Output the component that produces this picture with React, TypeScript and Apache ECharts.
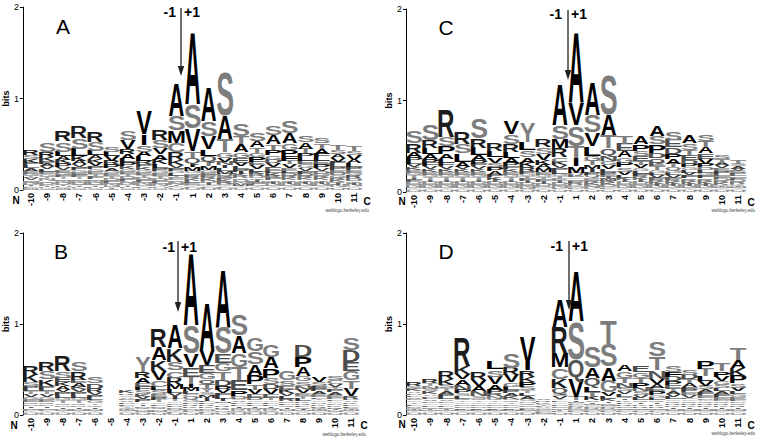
import React, { useEffect, useRef } from 'react';
import * as echarts from 'echarts';

// ---------------- DATA ----------------
const positions = ['-10', '-9', '-8', '-7', '-6', '-5', '-4', '-3', '-2', '-1', '1', '2', '3', '4', '5', '6', '7', '8', '9', '10', '11'];
const yTicks = [0, 1, 2];
const panelNames = ['A', 'B', 'C', 'D'];

// Each string: stack bottom -> top, letter + height in hundredths of a bit
const logoA = [
  'M1 W1 F1 Y1 I1 D2 N2 Q2 V2 T2 G3 E3 A3 L3 P3 K4 S4 R5',
  'W1 C1 H1 I1 F1 Y1 D2 Q2 N2 T2 G3 E3 L3 V3 A3 P3 K4 R6 S10',
  'M1 W1 C1 H1 I1 Y1 D2 N2 Q2 T2 F2 G3 E3 V3 P4 K4 A4 L5 S11 R12',
  'W1 C1 H1 I1 Y1 M1 D2 N2 Q2 T2 F2 E3 G3 P3 V3 A4 K5 L8 S12 R13',
  'W1 C1 H1 I1 Y1 M1 D2 N2 Q2 F2 T3 E3 G3 P3 V4 K4 A4 L5 S10 R11',
  'W1 I1 Y1 M1 N2 Q2 F2 D2 T3 E3 G3 A3 P4 R4 V5 L5 S6',
  'W1 C1 H1 I1 Y1 M1 N2 Q2 F2 D2 T3 E3 G3 K3 P4 L4 A5 R6 V10 S10',
  'W1 C1 H1 Y1 M1 N2 Q2 F2 D2 T3 E3 G3 K3 P3 R4 L5 A5 S7 I12 V26',
  'W1 C1 H1 Y1 N2 Q2 F2 D2 T3 E3 G3 P3 L4 K5 A6 V7 S9 R11',
  'W1 H1 Y1 F1 I1 N2 D2 Q2 E2 T2 L3 G3 P3 V3 K6 R9 C10 M13 S16 A36',
  'W1 H1 F1 Y1 N1 D1 E2 L2 K2 R2 P2 C2 G3 M4 I4 Q6 T7 V25 S27 A80',
  'W1 H1 F1 Y1 N1 C1 I2 D2 K2 R2 P2 E3 G3 M4 T5 Q6 L7 V15 S16 A38',
  'W1 H1 F1 Y1 C1 D2 R2 K2 P2 E2 Q3 M3 L3 I3 N4 V4 G6 T14 A26 S50',
  'W1 H1 C1 Y1 F1 M2 N2 D2 Q2 R2 K2 I3 P3 L3 V4 E5 G6 A9 T9 S13',
  'W1 H1 C1 Y1 M1 F2 N2 I2 Q2 D2 R2 K3 L3 V4 E4 P5 G5 T6 A7 S9',
  'W1 H1 C1 Y1 M1 N2 I2 Q2 F2 R2 K3 L3 E4 V4 D4 G5 P6 T6 A10 S11',
  'W1 H1 C1 Y1 M1 N2 I2 Q2 K2 R2 D3 L3 E3 V4 T4 F5 P7 G7 A11 S13',
  'W1 H1 C1 Y1 M1 N2 I2 Q2 K2 R2 D3 F3 V3 G4 E4 L4 P4 T5 A7 S8',
  'W1 H1 C1 Y1 M1 N2 I2 Q2 K2 R2 G3 D3 V3 P4 E4 L4 F4 A5 T6 S6',
  'W1 H1 Y1 N2 I2 Q2 K2 R2 G3 D3 E3 P3 L3 F3 V4 A4 S5 T6',
  'W1 H1 Y1 C1 N2 I2 Q2 D3 R3 G3 E3 P3 L4 A4 V5 S5 T6',
];

const logoB = [
  'W1 H1 C1 Y1 F1 M1 N2 I2 D2 Q2 E3 G3 V3 T3 L3 P3 S4 K8 R10',
  'W1 H1 C1 Y1 F1 M1 N2 I2 D2 Q2 E3 G3 V3 T3 L3 P3 K7 S9 R10',
  'W1 H1 C1 Y1 M1 N2 I2 D2 Q2 T3 G3 L3 P3 V3 A4 K4 E5 S7 R18',
  'W1 H1 C1 Y1 M1 N2 I2 D2 Q2 T3 G3 L3 P3 V3 K3 A4 E4 R9 S10',
  'W1 H1 C1 Y1 M1 N2 I2 Q2 T2 G3 L3 P3 V3 R4 D6 S7',
  '',
  'W1 H1 C1 Y1 M1 N1 I1 Q1 T1 G1 L2 P2 V2 E2 A2 S2 R2 K3',
  'W1 H1 C1 M1 N2 Q2 D2 I2 T2 P3 V3 K3 S4 F4 E4 A5 R7 Y17',
  'W1 H1 Y1 M1 N2 Q2 D2 F2 G2 T3 P3 E3 S4 L4 C7 V10 K12 A15 R20',
  'W1 H1 F1 Y1 Q1 N2 D2 P2 E2 G2 T3 I3 V3 L4 M5 R8 C8 S9 K15 A26',
  'W1 H1 Y1 F1 N2 D2 K2 R2 P2 G3 Q3 C3 L3 M4 I4 T8 E10 V15 S32 A80',
  'W1 H1 F1 C1 N2 D2 K2 R2 P2 L2 I3 M3 S3 Y4 T5 Q5 G7 E9 V17 A52',
  'W1 H1 C1 N2 Q2 K2 R2 Y2 M2 I3 L3 F3 V4 P4 D7 T9 G9 E10 S30 A64',
  'W1 H1 N1 Q1 K1 R1 Y1 M1 I2 L2 F2 V2 C2 D3 P6 E12 T14 G15 A19 S24',
  'W1 H1 N1 Q1 K1 R1 Y1 M1 I2 L2 F2 C2 D3 E4 V5 T6 P10 A12 S14 G15',
  'W1 H1 N1 Q1 K1 R1 Y1 M1 I2 L2 F2 C2 T3 E4 V5 D6 S7 P10 A13 G14',
  'W1 H1 C1 Y1 M1 N2 I2 Q2 F2 D2 R3 L3 V3 K4 E4 S6 G10',
  'W1 H1 C1 Y1 M1 I2 Q2 F2 R2 K2 L3 T3 E3 V4 N4 S5 G6 A10 P11 D13',
  'W1 H1 C1 Y1 M1 N1 I1 Q1 R2 K2 D2 G2 T2 L2 E3 A3 P3 F3 S4 V5',
  'W1 H1 Y1 M1 N1 I1 Q1 R2 K2 D2 G2 L2 F2 E3 A3 P3 T3 V3 C4 S5',
  'W1 H1 C1 Y1 M1 N1 I1 Q1 F2 L2 K2 A2 P2 R3 V8 T9 G10 E10 D13 S14',
];

const logoC = [
  'W1 H1 C1 Y1 M1 N2 Q2 D2 F2 I2 T3 G3 E3 K3 V3 L4 P4 A5 R10 S13',
  'W1 H1 C1 Y1 M1 N2 Q2 D2 I2 T3 G3 E3 K3 V3 F4 P4 A5 L7 R9 S18',
  'W1 H1 C1 Y1 M1 N2 Q2 D2 I2 T3 G3 E3 K3 V3 F4 L4 A5 P9 S10 R30',
  'W1 H1 C1 Y1 M1 N2 Q2 D2 I2 T3 G3 E3 K3 V3 A5 L9 S11 R13',
  'W1 H1 C1 Y1 M1 N2 Q2 D2 I2 T3 G3 E3 K3 V3 F3 P4 A5 L8 R10 S22',
  'W1 H1 C1 Y1 M1 N2 Q2 D2 I2 K3 F3 A4 P4 S5 V6 L7 R9',
  'W1 H1 C1 Y1 M1 N2 Q2 D2 I2 T3 G3 E3 K3 F3 P4 A5 L7 R9 S10 V15',
  'W1 H1 C1 M1 N2 Q2 D2 I2 F2 T3 G3 P3 R4 K5 A6 S8 L9 Y22',
  'W1 H1 C1 Y1 N1 Q2 D2 I2 F2 T3 G3 E3 M4 A4 K5 V7 S7 R9',
  'W1 H1 Y1 F1 N2 Q2 D2 I2 E2 T3 G3 L3 P3 V3 K4 C5 R10 M10 S15 A45',
  'W1 H1 Y1 F1 N1 D1 E1 K1 R2 P2 C2 G2 L2 Q3 M7 I9 T13 S23 V24 A78',
  'W1 H1 Y1 F1 N2 D2 K2 R2 E2 C2 Q3 P3 I3 M4 T5 G6 L10 V15 S19 A36',
  'W1 H1 Y1 F1 C2 D2 K2 R2 M2 I2 E3 P3 L3 V4 G5 N6 Q8 T14 A23 S45',
  'W1 H1 C1 Y1 M1 N2 Q2 D2 I2 K2 L3 V4 S5 P5 G6 A7 E8 T8',
  'W1 H1 C1 Y1 M1 N2 Q2 D2 I2 K2 R2 F3 L3 G3 V4 T4 E5 S6 P7 A9',
  'W1 H1 C1 Y1 M1 N2 I2 K2 R2 F2 V3 L3 G3 T4 E4 Q5 D6 P9 S9 A11',
  'W1 H1 C1 Y1 M1 N2 I2 K2 R2 F2 V3 L3 G3 Q3 T4 A5 P6 D7 E8 S9',
  'W1 H1 C1 Y1 M1 N2 I2 K2 R2 Q2 F3 V3 L3 G3 P4 D4 E5 T6 S7 A8',
  'W1 H1 C1 Y1 M1 N2 I2 K2 R2 Q2 F3 G3 L3 D3 P4 V5 E6 A7 T7 S8',
  'W1 H1 C1 Y1 M1 N1 I1 Q1 K2 R2 D2 F2 G2 L2 P3 E3 V3 A3 T4 S5',
  'W1 H1 C1 Y1 M1 N1 I1 Q1 K1 R2 D2 F2 G2 L2 P2 E2 V2 A3 S3 T4',
];

const logoD = [
  'W1 H1 C1 Y1 M1 N1 I1 Q1 D2 F2 T2 G2 E2 V2 L2 P2 A2 K3 S3 R4',
  'W1 H1 C1 Y1 M1 I1 Q1 D2 F2 G2 E2 V2 L2 P2 A2 K3 S3 N3 T3 R4',
  'W1 H1 C1 Y1 M1 I1 Q1 D2 F2 G2 E2 V2 L3 P3 A3 T3 S4 K7 R8',
  'W1 H1 C1 Y1 M1 I1 F2 D2 E2 G2 T2 Q2 L3 S3 P4 N5 A6 V6 K9 R32',
  'W1 H1 C1 Y1 M1 I1 F2 D2 E2 G2 T2 Q2 S3 N5 A6 V7 R8',
  'W1 H1 C1 Y1 M1 I1 F2 D2 E2 G2 T2 Q2 N3 R3 P4 A6 V8 S8 L9',
  'W1 H1 C1 Y1 M1 I1 F2 D2 E2 T2 Q2 N2 K3 A3 P3 L4 G5 V8 R8 S17',
  'W1 H1 C1 Y1 M1 F2 D2 E2 Q2 N2 G3 A3 L3 T3 S4 P5 K6 R7 I8 V29',
  'C1 M1 F1 D1 E1 Q1 N1 G1 A1 L1 T1 S1 K2 R2 V2',
  'W1 H1 Y1 F1 I1 N1 D2 E2 P2 G2 L2 T2 V3 S3 Q6 K10 C12 M16 R29 A31',
  'W1 H1 Y1 F1 N1 D1 E1 K1 R1 P1 G1 L1 C1 M1 I2 T4 V20 Q21 S42 A55',
  'W1 H1 Y1 F1 N1 D1 E1 R1 P1 G1 C1 M1 I2 V2 K4 T5 L6 Q10 A12 S24',
  'W1 H1 Y1 F1 N1 D1 E1 R1 P1 C1 M1 Q2 I2 K3 L3 V4 G13 A15 S25 T26',
  'W1 H1 Y1 F1 C1 M1 D2 E2 R2 P2 K2 I2 Q2 L3 V3 S4 N5 T6 G7 A7',
  'W1 H1 Y1 F1 C1 M1 D2 R2 K2 I2 Q2 L3 V3 S4 N4 P5 T6 G6 E7',
  'W1 H1 Y1 F1 C1 M1 D2 R2 K2 I2 Q2 L3 G3 P4 E4 A4 V6 N9 T15 S16',
  'W1 H1 Y1 C1 M1 N2 I2 K2 R2 Q2 G2 L3 V3 A3 T3 E4 P4 D5 F5 S7',
  'W1 H1 Y1 C1 M1 N2 I2 K2 R2 Q2 G2 L2 V3 E3 P3 F3 A4 T4 D5 S6',
  'W1 H1 Y1 C1 M1 N2 I2 K2 R2 Q2 G2 D2 E3 F3 A3 S4 V5 L6 T8 P9',
  'W1 H1 Y1 C1 M1 N2 I2 K2 R2 Q2 D2 E3 F3 A3 L3 S4 G4 V5 P6 T8',
  'W1 H1 Y1 C1 M1 N2 I2 R2 Q2 D2 F2 E3 G3 L3 V4 S5 P8 K9 A9 T13',
];

// ---------------- GLYPH METRICS (em) ----------------
// inkLeft, inkRight, advance, inkBottom, inkTop
const METRICS: Record<string, number[]> = {
  A: [0.0, 0.719, 0.722, 0, 0.716],
  C: [0.048, 0.669, 0.722, -0.012, 0.728],
  D: [0.073, 0.669, 0.722, 0, 0.716],
  E: [0.073, 0.612, 0.667, 0, 0.716],
  F: [0.073, 0.561, 0.611, 0, 0.716],
  G: [0.044, 0.72, 0.778, -0.012, 0.728],
  H: [0.073, 0.649, 0.722, 0, 0.716],
  I: [0.067, 0.211, 0.278, 0, 0.716],
  K: [0.073, 0.727, 0.722, 0, 0.716],
  L: [0.073, 0.575, 0.611, 0, 0.716],
  M: [0.071, 0.762, 0.833, 0, 0.716],
  N: [0.073, 0.649, 0.722, 0, 0.716],
  P: [0.073, 0.62, 0.667, 0, 0.716],
  Q: [0.043, 0.756, 0.778, -0.06, 0.728],
  R: [0.073, 0.722, 0.722, 0, 0.716],
  S: [0.034, 0.62, 0.667, -0.012, 0.728],
  T: [0.02, 0.591, 0.611, 0, 0.716],
  V: [0.0, 0.667, 0.667, 0, 0.716],
  W: [0.004, 0.938, 0.944, 0, 0.716],
  Y: [0.0, 0.667, 0.667, 0, 0.716],
};
const CENTRAL = 0.3467;
const FONT = 'Liberation Sans';

function letterGray(L: string) {
  if ('STGYC'.includes(L)) return 0x7d;
  if ('DE'.includes(L)) return 0x4c;
  if ('NQ'.includes(L)) return 0x55;
  if ('KRH'.includes(L)) return 0x1d;
  return 0x00;
}

// thin letters render washed out (anti-aliased) in the original
function letterColor(L: string, hPx: number) {
  const g = letterGray(L);
  const t = hPx >= 4 ? 0 : Math.min(0.55, (4 - hPx) / 4 * 0.7);
  const v = Math.round(g + (255 - g) * t);
  return `rgb(${v},${v},${v})`;
}

function buildStacks(cols: string[]) {
  const data: number[][] = [];
  const letters: string[] = [];
  cols.forEach((col, i) => {
    let acc = 0;
    col.split(' ').filter(Boolean).forEach((tok) => {
      const h = parseInt(tok.slice(1), 10) / 100;
      data.push([i, acc, acc + h]);
      letters.push(tok[0]);
      acc += h;
    });
  });
  return { data, letters };
}

function makeRender(letters: string[]) {
  return (params: any, api: any) => {
    const idx = api.value(0);
    const v0 = api.value(1);
    const v1 = api.value(2);
    const pB = api.coord([idx, v0]);
    const pT = api.coord([idx, v1]);
    const colW = api.size([1, 0])[0];
    const L = letters[params.dataIndex];
    const m = METRICS[L] || METRICS.A;
    const F = 100;
    const inkW = m[1] - m[0];
    const targetW = L === 'I' ? colW * 0.26 : colW * 0.97;
    const sx = targetW / (inkW * F);
    const h = pB[1] - pT[1];
    if (h <= 0.05) return null;
    const sy = h / ((m[4] - m[3]) * F);
    const off = (m[0] + m[1]) / 2 - m[2] / 2;
    return {
      type: 'text',
      x: pB[0] - off * F * sx,
      y: pB[1] - (CENTRAL - m[3]) * F * sy,
      scaleX: sx,
      scaleY: sy,
      style: {
        text: L,
        fontSize: F,
        fontWeight: 'bold',
        fontFamily: FONT,
        fill: letterColor(L, h),
        align: 'center',
        verticalAlign: 'middle',
      },
    };
  };
}

const COLW = 16.2;
const GW = COLW * 21;
const panels = [
  { logo: logoA, grid: { left: 22, top: 7, width: GW, height: 183 }, mark: [63, 26], cut: { x: 181, y0: 8, y1: 76, ty: 12, lx: 176 }, N: [16, 200], C: [367, 201], web: [369, 210] },
  { logo: logoB, grid: { left: 19, top: 233, width: GW, height: 182 }, mark: [61, 251], cut: { x: 178, y0: 241, y1: 312, ty: 247, lx: 175 }, N: [14, 425], C: [364, 425], web: [366, 434] },
  { logo: logoC, grid: { left: 406, top: 9, width: GW, height: 183 }, mark: [446, 27], cut: { x: 568, y0: 10, y1: 80, ty: 14, lx: 562 }, N: [402, 201], C: [751, 202], web: [755, 210] },
  { logo: logoD, grid: { left: 406, top: 233, width: GW, height: 182 }, mark: [446, 251], cut: { x: 569, y0: 241, y1: 310, ty: 246, lx: 563 }, N: [402, 424], C: [751, 425], web: [755, 433] },
];

function buildOption() {
  const grids: any[] = [];
  const xAxes: any[] = [];
  const yAxes: any[] = [];
  const series: any[] = [];
  const graphic: any[] = [];
  panels.forEach((p, k) => {
    grids.push({ ...p.grid, containLabel: false });
    xAxes.push({
      type: 'category',
      gridIndex: k,
      data: positions,
      boundaryGap: true,
      axisLine: { show: false },
      axisTick: { show: false },
      splitLine: { show: false },
      axisLabel: { interval: 0, rotate: 90, fontSize: 9, fontWeight: 'bold', fontFamily: FONT, color: '#000', margin: 3 },
    });
    yAxes.push({
      type: 'value',
      gridIndex: k,
      min: yTicks[0],
      max: yTicks[yTicks.length - 1],
      interval: 1,
      axisLine: { show: true, lineStyle: { color: '#000', width: 1 } },
      axisTick: { show: true, length: 3, lineStyle: { color: '#000' } },
      splitLine: { show: false },
      axisLabel: { fontSize: 9, fontFamily: FONT, color: '#000', margin: 4 },
      name: 'bits',
      nameLocation: 'middle',
      nameRotate: 90,
      nameGap: 10,
      nameTextStyle: { fontSize: 9, fontWeight: 'bold', fontFamily: FONT, color: '#000' },
    });
    const st = buildStacks(p.logo);
    series.push({
      type: 'custom',
      xAxisIndex: k,
      yAxisIndex: k,
      data: st.data,
      encode: { x: 0, y: [1, 2] },
      renderItem: makeRender(st.letters),
      clip: false,
      silent: true,
    });
    graphic.push({ type: 'text', x: p.mark[0], y: p.mark[1], style: { text: panelNames[k], fontSize: 21, fontFamily: FONT, fill: '#000', align: 'center', verticalAlign: 'middle' } });
    const c = p.cut;
    graphic.push({ type: 'text', x: c.lx, y: c.ty, style: { text: '-1', fontSize: 14, fontWeight: 'bold', fontFamily: FONT, fill: '#000', align: 'right', verticalAlign: 'middle' } });
    graphic.push({ type: 'text', x: c.x + 3, y: c.ty, style: { text: '+1', fontSize: 14, fontWeight: 'bold', fontFamily: FONT, fill: '#000', align: 'left', verticalAlign: 'middle' } });
    graphic.push({ type: 'line', z: 100, shape: { x1: c.x, y1: c.y0, x2: c.x, y2: c.y1 - 6 }, style: { stroke: '#222', lineWidth: 1.3 } });
    graphic.push({ type: 'polygon', z: 100, shape: { points: [[c.x - 3.2, c.y1 - 10], [c.x + 3.2, c.y1 - 10], [c.x, c.y1]] }, style: { fill: '#222' } });
    graphic.push({ type: 'text', x: p.N[0], y: p.N[1], style: { text: 'N', fontSize: 10, fontWeight: 'bold', fontFamily: FONT, fill: '#000', align: 'center', verticalAlign: 'middle' } });
    graphic.push({ type: 'text', x: p.C[0], y: p.C[1], style: { text: 'C', fontSize: 10, fontWeight: 'bold', fontFamily: FONT, fill: '#000', align: 'center', verticalAlign: 'middle' } });
    graphic.push({ type: 'text', x: p.web[0], y: p.web[1], style: { text: 'weblogo.berkeley.edu', fontSize: 4.5, fontFamily: FONT, fill: '#444', align: 'right', verticalAlign: 'middle' } });
  });
  return {
    animation: false,
    backgroundColor: '#ffffff',
    grid: grids,
    xAxis: xAxes,
    yAxis: yAxes,
    series,
    graphic,
  };
}

export default function App() {
  const ref = useRef<HTMLDivElement>(null);
  useEffect(() => {
    if (!ref.current) return;
    const chart = echarts.init(ref.current, undefined, { renderer: 'svg' });
    chart.setOption(buildOption() as any);
    return () => {
      chart.dispose();
    };
  }, []);
  return (
    <div
      ref={ref}
      style={{ position: 'absolute', left: 0, top: 0, width: 760, height: 438, background: '#fff' }}
    />
  );
}
